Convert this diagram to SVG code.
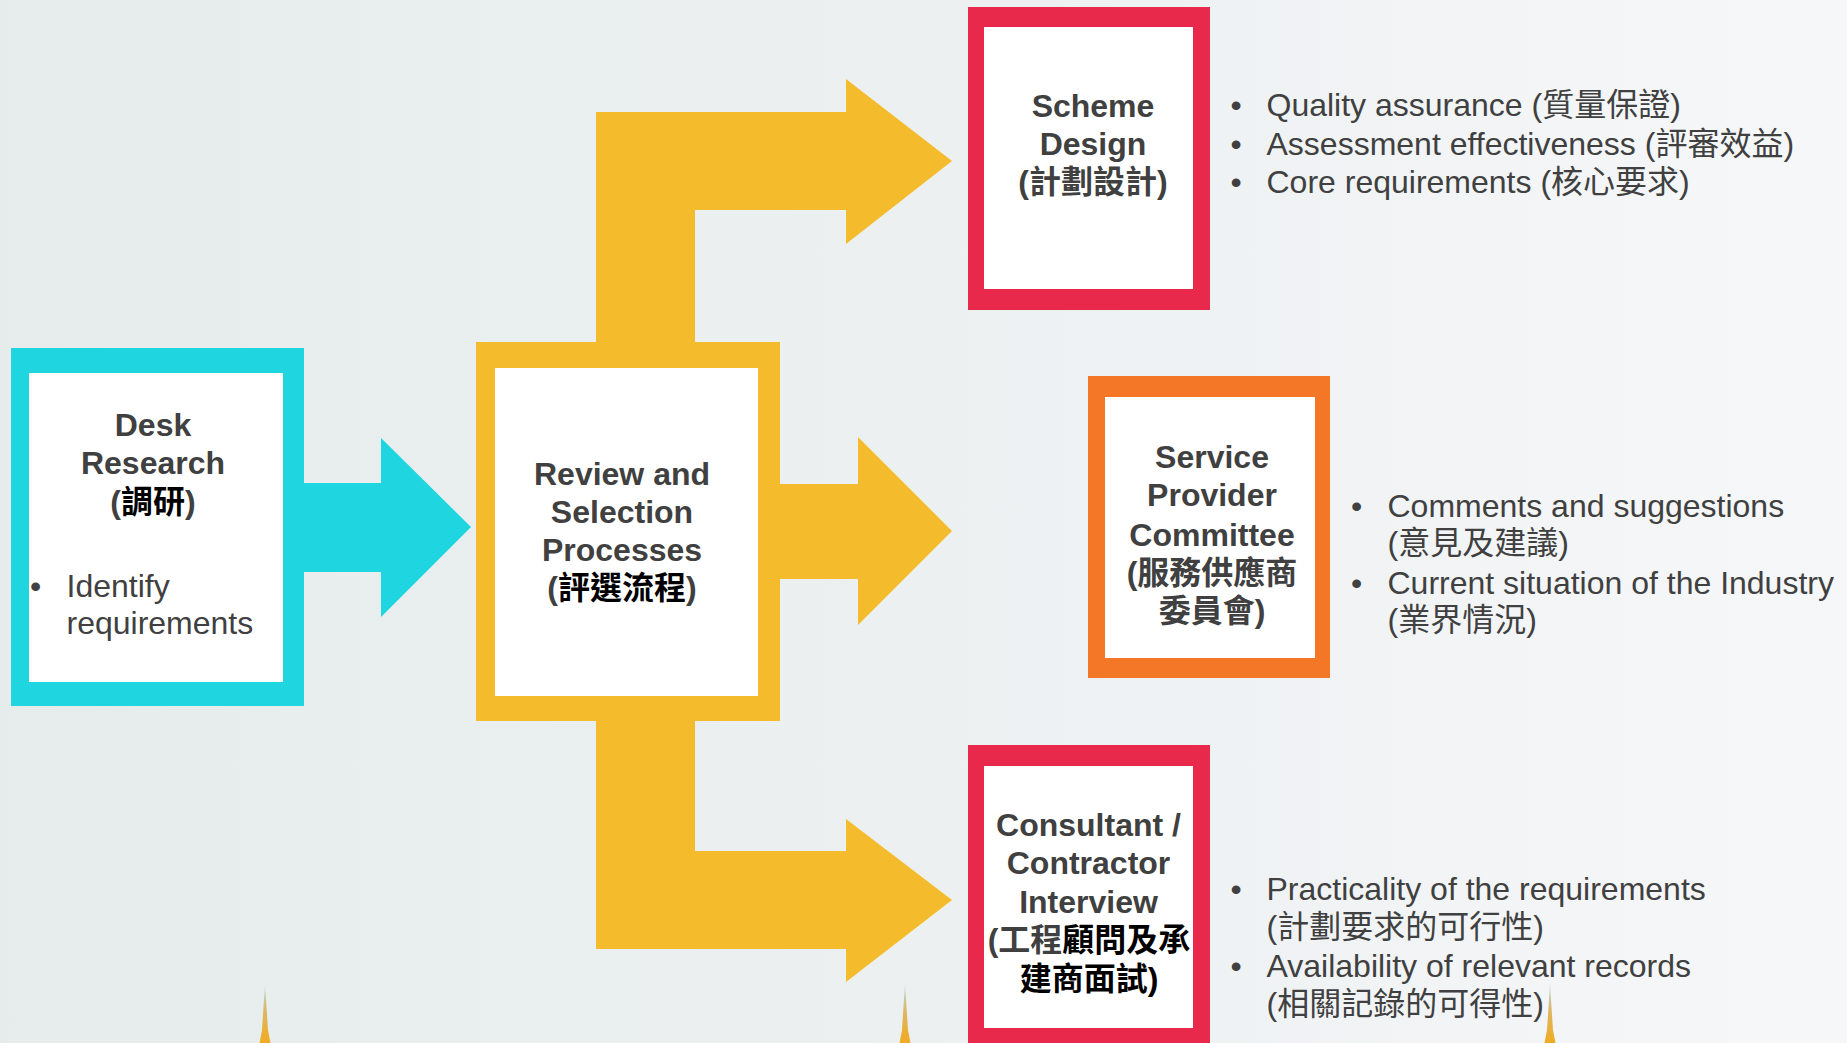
<svg xmlns="http://www.w3.org/2000/svg" width="1847" height="1043" viewBox="0 0 1847 1043">
<defs>
<linearGradient id="bg" x1="0" y1="0" x2="1" y2="0"><stop offset="0" stop-color="#e6ecec"/><stop offset="0.5" stop-color="#ecf0f1"/><stop offset="1" stop-color="#f6f7f9"/></linearGradient>
<linearGradient id="spire" x1="0" y1="0" x2="0" y2="1"><stop offset="0" stop-color="#e6ecec"/><stop offset="0.25" stop-color="#c9c8ae"/><stop offset="0.45" stop-color="#dcb765"/><stop offset="1" stop-color="#f0ab22"/></linearGradient>
</defs>
<style>
text{font-family:"Liberation Sans","Noto Sans CJK TC",sans-serif;font-size:32px;fill:#404040}
.t{font-weight:700;text-anchor:middle}
.k{fill:#000}
.c{fill:#1fd5e0}.y{fill:#f4bc2c}.r{fill:#e8294b}.o{fill:#f37726}.w{fill:#fff}
</style>
<rect width="1847" height="1043" fill="url(#bg)"/>
<g id="spires" fill="url(#spire)">
<path d="M265 982L266.500 1007L268 1030L270.500 1043H259.500L262 1030L263.500 1007Z"/>
<path d="M905 982L906.500 1007L908 1030L910.500 1043H899.500L902 1030L903.500 1007Z"/>
<path d="M1550 982L1551.500 1007L1553 1030L1555.500 1043H1544.500L1547 1030L1548.500 1007Z"/>
</g>
<g id="connectors">
<polygon class="c" points="304,483 381,483 381,438 471,527 381,617 381,572 304,572"/>
<polygon class="y" points="596,342 596,112 846,112 846,79 952,161 846,244 846,210 695,210 695,342"/>
<polygon class="y" points="780,484 858,484 858,437 952,531 858,625 858,579 780,579"/>
<polygon class="y" points="596,721 596,949 846,949 846,982 952,900 846,819 846,851 695,851 695,721"/>
</g>
<g id="desk-research">
<rect class="c" x="11" y="348" width="293" height="358"/><rect class="w" x="29" y="373" width="254" height="309"/>
<text class="t" x="153" y="436">Desk</text><text class="t" x="153" y="474">Research</text>
<text class="t" x="153" y="513">(<tspan class="k">調研</tspan>)</text>
<text x="30" y="597">•</text><text x="66.500" y="597">Identify</text><text x="66.500" y="634">requirements</text>
</g>
<g id="review-selection">
<rect class="y" x="476" y="342" width="304" height="379"/><rect class="w" x="495" y="368" width="263" height="328"/>
<text class="t" x="622" y="485">Review and</text><text class="t" x="622" y="523">Selection</text><text class="t" x="622" y="561">Processes</text>
<text class="t" x="622" y="599">(<tspan class="k">評選流程</tspan>)</text>
</g>
<g id="scheme-design">
<rect class="r" x="968" y="7" width="242" height="303"/><rect class="w" x="984" y="27" width="209" height="262"/>
<text class="t" x="1093" y="117">Scheme</text><text class="t" x="1093" y="155">Design</text><text class="t" x="1093" y="193">(計劃設計)</text>
</g>
<g id="scheme-notes">
<text x="1230.500" y="116">•</text><text x="1266.500" y="116">Quality assurance (質量保證)</text>
<text x="1230.500" y="155">•</text><text x="1266.500" y="155">Assessment effectiveness (評審效益)</text>
<text x="1230.500" y="193">•</text><text x="1266.500" y="193">Core requirements (核心要求)</text>
</g>
<g id="service-provider">
<rect class="o" x="1088" y="376" width="242" height="302"/><rect class="w" x="1105" y="397" width="210" height="261"/>
<text class="t" x="1212" y="468">Service</text><text class="t" x="1212" y="506">Provider</text><text class="t" x="1212" y="546">Committee</text>
<text class="t" x="1212" y="584">(服務供應商</text><text class="t" x="1212" y="622">委員會)</text>
</g>
<g id="service-notes">
<text x="1351" y="517">•</text><text x="1387.500" y="517">Comments and suggestions</text><text x="1387.500" y="554">(意見及建議)</text>
<text x="1351" y="594">•</text><text x="1387.500" y="594">Current situation of the Industry</text><text x="1387.500" y="631">(業界情況)</text>
</g>
<g id="consultant-interview">
<rect class="r" x="968" y="745" width="242" height="298"/><rect class="w" x="984" y="766" width="209" height="262"/>
<text class="t" x="1088.500" y="836">Consultant /</text><text class="t" x="1088.500" y="874">Contractor</text><text class="t" x="1088.500" y="913">Interview</text>
<text class="t" x="1089" y="951">(工程<tspan class="k">顧問及承</tspan></text><text class="t k" x="1089" y="990">建商面試)</text>
</g>
<g id="consultant-notes">
<text x="1230.500" y="900">•</text><text x="1266.500" y="900">Practicality of the requirements</text><text x="1266.500" y="938">(計劃要求的可行性)</text>
<text x="1230.500" y="977">•</text><text x="1266.500" y="977">Availability of relevant records</text><text x="1266.500" y="1015">(相關記錄的可得性)</text>
</g>
</svg>
